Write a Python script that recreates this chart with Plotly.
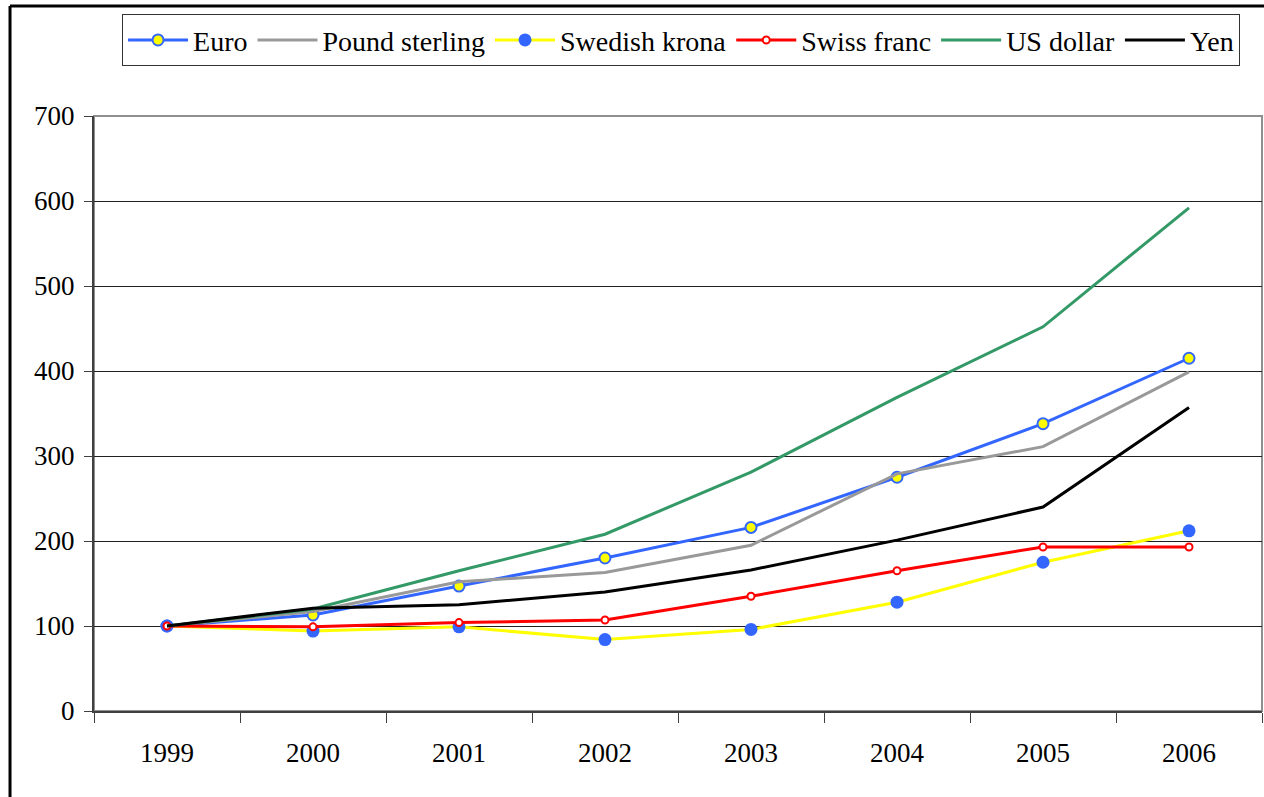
import plotly.graph_objects as go

years = ["1999", "2000", "2001", "2002", "2003", "2004", "2005", "2006"]
euro = [100, 113, 147, 180, 216, 275, 338, 415]
pound = [100, 117, 152, 163, 195, 279, 311, 399]
krona = [100, 94, 99, 84, 96, 128, 175, 212]
franc = [100, 99, 104, 107, 135, 165, 193, 193]
dollar = [100, 120, 165, 208, 281, 369, 452, 592]
yen = [100, 121, 125, 140, 166, 201, 240, 357]
y_ticks = [0, 100, 200, 300, 400, 500, 600, 700]

FONT = "Liberation Serif"

fig = go.Figure()
fig.add_trace(go.Scatter(x=years, y=euro, name="Euro", mode="lines+markers",
                         line=dict(color="#3366FF", width=3),
                         marker=dict(symbol="circle", size=11, color="#FFFF00",
                                     line=dict(color="#3366FF", width=2))))
fig.add_trace(go.Scatter(x=years, y=pound, name="Pound sterling", mode="lines",
                         line=dict(color="#999999", width=3)))
fig.add_trace(go.Scatter(x=years, y=krona, name="Swedish krona", mode="lines+markers",
                         line=dict(color="#FFFF00", width=3),
                         marker=dict(symbol="circle", size=13, color="#3366FF",
                                     line=dict(color="#3366FF", width=0))))
fig.add_trace(go.Scatter(x=years, y=franc, name="Swiss franc", mode="lines+markers",
                         line=dict(color="#FF0000", width=3),
                         marker=dict(symbol="circle", size=7, color="#FFFFFF",
                                     line=dict(color="#FF0000", width=2))))
fig.add_trace(go.Scatter(x=years, y=dollar, name="US dollar", mode="lines",
                         line=dict(color="#339966", width=3)))
fig.add_trace(go.Scatter(x=years, y=yen, name="Yen", mode="lines",
                         line=dict(color="#000000", width=3)))

# plot-area frame (grey top/right)
fig.add_shape(type="rect", xref="paper", yref="paper", x0=0, x1=1, y0=0, y1=1,
              line=dict(color="#909090", width=2), layer="below")
# outer figure frame (left and top edges)
fig.add_shape(type="line", xref="paper", yref="paper", x0=-0.0719, x1=-0.0719,
              y0=1.1849, y1=-0.25, line=dict(color="#000000", width=3))
fig.add_shape(type="line", xref="paper", yref="paper", x0=-0.0719, x1=1.1,
              y0=1.1849, y1=1.1849, line=dict(color="#000000", width=3))

fig.update_layout(
    width=1264, height=797,
    margin=dict(l=94, r=2, t=116, b=86),
    paper_bgcolor="white", plot_bgcolor="white",
    font=dict(family=FONT, size=27, color="#000000"),
    showlegend=True,
    legend=dict(orientation="h", x=0.024, y=1.171, xanchor="left", yanchor="top",
                bordercolor="#333333", borderwidth=1, bgcolor="white",
                font=dict(family=FONT, size=28, color="#000000"),
                itemwidth=60, tracegroupgap=0),
    xaxis=dict(type="category", range=[-0.5, 7.5], tickson="boundaries",
               showgrid=False, showline=True, linecolor="#404040", linewidth=2,
               ticks="outside", ticklen=10, tickcolor="#404040", tickwidth=1,
               ticklabelstandoff=17, zeroline=False, fixedrange=True),
    yaxis=dict(range=[0, 700], tickvals=y_ticks, showgrid=True, gridcolor="#202020",
               gridwidth=1, showline=True, linecolor="#404040", linewidth=2,
               ticks="outside", ticklen=8, tickcolor="#404040", tickwidth=1,
               ticklabelstandoff=4, zeroline=False, fixedrange=True),
)

fig.write_html("out.html", config={"displayModeBar": False},
               post_script="document.body.style.margin='0';document.body.style.overflow='hidden';")
